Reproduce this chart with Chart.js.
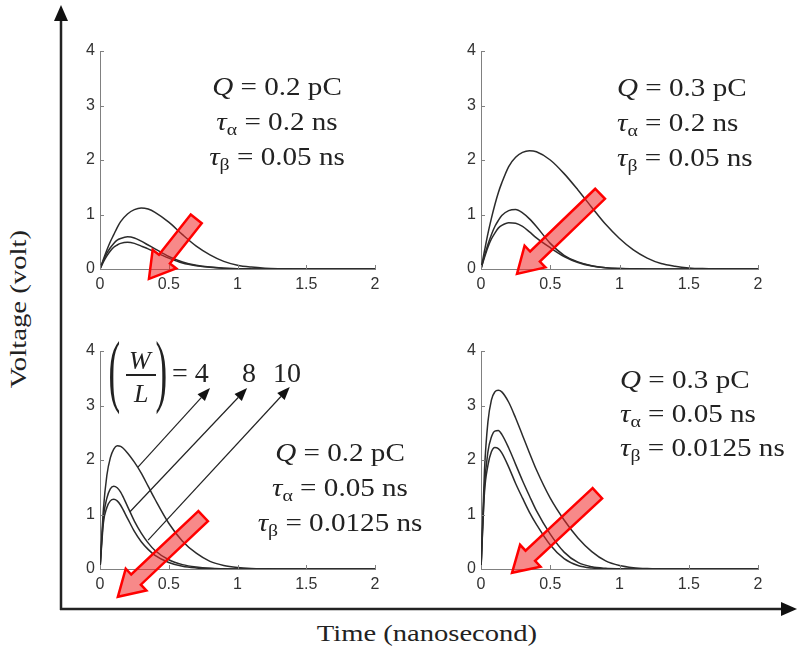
<!DOCTYPE html>
<html>
<head>
<meta charset="utf-8">
<script src="https://cdn.jsdelivr.net/npm/chart.js@4.4.1/dist/chart.umd.min.js"></script>
<style>
  body { margin: 0; width: 797px; height: 652px; overflow: hidden; background: #fff; position: relative;
         font-family: "Liberation Serif", "Times New Roman", serif; color: #222; }
  canvas { position: absolute; }
  .note { position: absolute; font-size: 26px; line-height: 35px; white-space: nowrap; }
  .note sub { font-size: 0.68em; vertical-align: -0.28em; line-height: 0; }
  .piece { position: absolute; white-space: nowrap; }
</style>
</head>
<body>
<svg width="797" height="652" style="position:absolute;left:0;top:0">
  <line x1="61" y1="18" x2="61" y2="610" stroke="#222" stroke-width="2.5"/>
  <polygon points="61,5 54,21 68,21" fill="#111"/>
  <line x1="60" y1="609" x2="784" y2="609" stroke="#222" stroke-width="2.5"/>
  <polygon points="797,609 781,602 781,616" fill="#111"/>
</svg>

<canvas id="pA"></canvas>
<canvas id="pB"></canvas>
<canvas id="pC"></canvas>
<canvas id="pD"></canvas>

<div class="piece" style="left:19px;top:309px;font-size:23px;transform:translate(-50%,-50%) rotate(-90deg) scaleX(1.25)">Voltage (volt)</div>
<div class="piece" style="left:427px;top:633px;font-size:24px;transform:translate(-50%,-50%) scaleX(1.19)">Time (nanosecond)</div>

<div class="note" style="left:127px;width:300px;top:69px;text-align:center;transform:scaleX(1.12)">
  <i>Q</i> = 0.2 pC<br><i>τ</i><sub>α</sub> = 0.2 ns<br><i>τ</i><sub>β</sub> = 0.05 ns
</div>
<div class="note" style="left:617px;top:70px;transform-origin:left;transform:scaleX(1.12)">
  <i>Q</i> = 0.3 pC<br><i>τ</i><sub>α</sub> = 0.2 ns<br><i>τ</i><sub>β</sub> = 0.05 ns
</div>
<div class="note" style="left:190px;width:300px;top:435px;text-align:center;transform:scaleX(1.12)">
  <i>Q</i> = 0.2 pC<br><i>τ</i><sub>α</sub> = 0.05 ns<br><i>τ</i><sub>β</sub> = 0.0125 ns
</div>
<div class="note" style="left:620px;top:363px;line-height:34px;transform-origin:left;transform:scaleX(1.12)">
  <i>Q</i> = 0.3 pC<br><i>τ</i><sub>α</sub> = 0.05 ns<br><i>τ</i><sub>β</sub> = 0.0125 ns
</div>

<div class="piece" style="left:106px;top:345px;font-size:50px;line-height:50px;transform:scale(0.7,1.6)">(</div>
<div class="piece" style="left:129px;top:346px;font-size:26px;line-height:30px"><i>W</i></div>
<div class="piece" style="left:126px;top:374px;width:30px;height:1.5px;background:#222"></div>
<div class="piece" style="left:134px;top:379px;font-size:26px;line-height:30px"><i>L</i></div>
<div class="piece" style="left:153px;top:345px;font-size:50px;line-height:50px;transform:scale(0.7,1.6)">)</div>
<div class="piece" style="left:172px;top:356px;font-size:28px;line-height:34px">= 4</div>
<div class="piece" style="left:242px;top:356px;font-size:28px;line-height:34px">8</div>
<div class="piece" style="left:273px;top:356px;font-size:28px;line-height:34px">10</div>

<script>
// time in nanoseconds, voltage in volts; W4 / W8 / W10 are the W/L = 4, 8, 10 curves
const times = [0, 0.025, 0.05, 0.075, 0.1, 0.125, 0.15, 0.2, 0.25, 0.3, 0.35, 0.4, 0.5, 0.6, 0.7, 0.8, 0.9, 1.0, 1.1, 1.2, 1.3, 1.4, 1.5, 1.6, 1.8, 2.0];

// Q = 0.2 pC, tau_a = 0.2 ns, tau_b = 0.05 ns
const A_W4  = [0, 0.18, 0.35, 0.5, 0.63, 0.76, 0.87, 1.01, 1.09, 1.12, 1.1, 1.04, 0.86, 0.63, 0.42, 0.26, 0.14, 0.07, 0.035, 0.015, 0.006, 0.002, 0, 0, 0, 0];
const A_W8  = [0, 0.16, 0.29, 0.39, 0.47, 0.53, 0.56, 0.59, 0.57, 0.51, 0.44, 0.37, 0.23, 0.13, 0.07, 0.035, 0.015, 0.006, 0.002, 0, 0, 0, 0, 0, 0, 0];
const A_W10 = [0, 0.13, 0.24, 0.33, 0.4, 0.44, 0.47, 0.49, 0.47, 0.42, 0.37, 0.31, 0.2, 0.11, 0.06, 0.03, 0.013, 0.005, 0.002, 0, 0, 0, 0, 0, 0, 0];

// Q = 0.3 pC, tau_a = 0.2 ns, tau_b = 0.05 ns
const B_W4  = [0, 0.33, 0.65, 0.93, 1.18, 1.4, 1.58, 1.88, 2.05, 2.14, 2.17, 2.15, 2.0, 1.75, 1.45, 1.13, 0.82, 0.56, 0.35, 0.2, 0.1, 0.05, 0.02, 0.007, 0, 0];
const B_W8  = [0, 0.24, 0.45, 0.63, 0.78, 0.89, 0.98, 1.07, 1.09, 1.03, 0.92, 0.78, 0.47, 0.25, 0.13, 0.06, 0.025, 0.01, 0.003, 0, 0, 0, 0, 0, 0, 0];
const B_W10 = [0, 0.21, 0.4, 0.55, 0.66, 0.75, 0.8, 0.85, 0.84, 0.78, 0.68, 0.57, 0.39, 0.23, 0.12, 0.055, 0.022, 0.008, 0.003, 0, 0, 0, 0, 0, 0, 0];

// Q = 0.2 pC, tau_a = 0.05 ns, tau_b = 0.0125 ns
const C_W4  = [0, 1.1, 1.72, 2.04, 2.2, 2.26, 2.25, 2.13, 1.96, 1.76, 1.52, 1.28, 0.84, 0.51, 0.29, 0.14, 0.065, 0.028, 0.01, 0.003, 0, 0, 0, 0, 0, 0];
const C_W8  = [0, 0.95, 1.3, 1.47, 1.52, 1.49, 1.41, 1.15, 0.88, 0.66, 0.48, 0.34, 0.17, 0.08, 0.035, 0.012, 0.004, 0, 0, 0, 0, 0, 0, 0, 0, 0];
const C_W10 = [0, 0.85, 1.13, 1.25, 1.28, 1.25, 1.17, 0.93, 0.69, 0.5, 0.36, 0.25, 0.12, 0.05, 0.02, 0.007, 0.002, 0, 0, 0, 0, 0, 0, 0, 0, 0];

// Q = 0.3 pC, tau_a = 0.05 ns, tau_b = 0.0125 ns
const D_W4  = [0, 1.8, 2.7, 3.1, 3.25, 3.28, 3.25, 3.06, 2.77, 2.45, 2.13, 1.82, 1.3, 0.9, 0.57, 0.32, 0.15, 0.065, 0.025, 0.008, 0.002, 0, 0, 0, 0, 0];
const D_W8  = [0, 1.5, 2.15, 2.42, 2.53, 2.54, 2.47, 2.22, 1.92, 1.62, 1.34, 1.07, 0.64, 0.31, 0.12, 0.04, 0.012, 0.003, 0, 0, 0, 0, 0, 0, 0, 0];
const D_W10 = [0, 1.4, 1.9, 2.15, 2.23, 2.21, 2.13, 1.87, 1.57, 1.3, 1.04, 0.82, 0.44, 0.19, 0.065, 0.018, 0.005, 0, 0, 0, 0, 0, 0, 0, 0, 0];

const xTicks = [0, 0.5, 1, 1.5, 2];
const yTicks = [0, 1, 2, 3, 4];

// arrow ends are given in each panel's own data units
const panels = [
  { id: 'pA', box: [100, 51, 375, 269], series: [A_W4, A_W8, A_W10], red: [[0.70, 0.92], [0.356, -0.18]] },
  { id: 'pB', box: [481, 51, 758, 269], series: [B_W4, B_W8, B_W10], red: [[0.86, 1.38], [0.26, -0.09]] },
  { id: 'pC', box: [100, 351, 375, 569], series: [C_W4, C_W8, C_W10], red: [[0.75, 0.97], [0.13, -0.51]],
    pointers: [[[0.276, 1.87], [0.80, 3.32]], [[0.218, 1.05], [1.07, 3.32]], [[0.35, 0.53], [1.38, 3.34]]] },
  { id: 'pD', box: [481, 351, 758, 569], series: [D_W4, D_W8, D_W10], red: [[0.84, 1.39], [0.224, -0.07]] }
];

const decor = {
  id: 'decor',
  afterDraw(chart, args, opts) {
    const { ctx, scales: { x, y } } = chart;
    const P = (pt) => [x.getPixelForValue(pt[0]), y.getPixelForValue(pt[1])];
    ctx.save();
    // inward tick marks
    ctx.strokeStyle = '#808080';
    ctx.lineWidth = 1;
    xTicks.forEach(v => {
      const px = Math.round(x.getPixelForValue(v)) + 0.5;
      ctx.beginPath(); ctx.moveTo(px, y.bottom); ctx.lineTo(px, y.bottom - 4); ctx.stroke();
    });
    yTicks.forEach(v => {
      const py = Math.round(y.getPixelForValue(v)) + 0.5;
      ctx.beginPath(); ctx.moveTo(x.left, py); ctx.lineTo(x.left + 4, py); ctx.stroke();
    });
    // thin black pointers to the W/L labels
    (opts.pointers || []).forEach(([a, b]) => {
      const [x0, y0] = P(a), [x1, y1] = P(b);
      const ang = Math.atan2(y1 - y0, x1 - x0);
      const hl = 13, hw = 5;
      const bx = x1 - hl * Math.cos(ang), by = y1 - hl * Math.sin(ang);
      ctx.strokeStyle = '#222'; ctx.lineWidth = 1.2;
      ctx.beginPath(); ctx.moveTo(x0, y0); ctx.lineTo(bx, by); ctx.stroke();
      ctx.fillStyle = '#111';
      ctx.beginPath();
      ctx.moveTo(x1, y1);
      ctx.lineTo(bx - hw * Math.sin(ang), by + hw * Math.cos(ang));
      ctx.lineTo(bx + hw * Math.sin(ang), by - hw * Math.cos(ang));
      ctx.closePath(); ctx.fill();
    });
    // red block arrow
    if (opts.red) {
      const [tx, ty] = P(opts.red[0]), [px, py] = P(opts.red[1]);
      const len = Math.hypot(px - tx, py - ty);
      const ux = (px - tx) / len, uy = (py - ty) / len;
      const nx = -uy, ny = ux;
      const w = 7, hw = 15, hl = 25;
      const hx = px - ux * hl, hy = py - uy * hl;
      ctx.beginPath();
      ctx.moveTo(tx + nx * w, ty + ny * w);
      ctx.lineTo(hx + nx * w, hy + ny * w);
      ctx.lineTo(hx + nx * hw, hy + ny * hw);
      ctx.lineTo(px, py);
      ctx.lineTo(hx - nx * hw, hy - ny * hw);
      ctx.lineTo(hx - nx * w, hy - ny * w);
      ctx.lineTo(tx - nx * w, ty - ny * w);
      ctx.closePath();
      ctx.fillStyle = 'rgba(240, 40, 40, 0.55)';
      ctx.fill();
      ctx.strokeStyle = '#ff0000';
      ctx.lineWidth = 2.5;
      ctx.lineJoin = 'miter';
      ctx.stroke();
    }
    ctx.restore();
  }
};

const padL = 40, padT = 35, padR = 55, padB = 40;
const axisFont = { family: '"Liberation Sans", Arial, sans-serif', size: 16 };

panels.forEach(p => {
  const [l, t, r, b] = p.box;
  const cv = document.getElementById(p.id);
  const w = r - l + padL + padR, h = b - t + padT + padB;
  cv.width = w; cv.height = h;
  cv.style.left = (l - padL) + 'px'; cv.style.top = (t - padT) + 'px';
  cv.style.width = w + 'px'; cv.style.height = h + 'px';

  new Chart(cv, {
    type: 'line',
    data: {
      datasets: p.series.map(s => ({
        data: times.map((tm, i) => ({ x: tm, y: s[i] })),
        borderColor: '#2b2b2b',
        borderWidth: 1.5,
        pointRadius: 0,
        fill: false,
        cubicInterpolationMode: 'monotone'
      }))
    },
    options: {
      responsive: false,
      animation: false,
      devicePixelRatio: 1,
      layout: { padding: { left: padL - 24, top: padT, right: padR, bottom: padB - 24 } },
      plugins: { legend: { display: false }, tooltip: { enabled: false }, decor: { red: p.red, pointers: p.pointers } },
      scales: {
        x: {
          type: 'linear', min: 0, max: 2,
          afterBuildTicks: s => { s.ticks = xTicks.map(v => ({ value: v })); },
          afterFit: s => { s.height = 24; },
          grid: { display: false, drawTicks: false },
          border: { color: '#808080', width: 1 },
          ticks: { color: '#333', font: axisFont, padding: 6, maxRotation: 0, callback: v => String(v) }
        },
        y: {
          type: 'linear', min: 0, max: 4,
          afterBuildTicks: s => { s.ticks = yTicks.map(v => ({ value: v })); },
          afterFit: s => { s.width = 24; },
          grid: { display: false, drawTicks: false },
          border: { color: '#808080', width: 1 },
          ticks: { color: '#333', font: axisFont, padding: 5, callback: v => String(v) }
        }
      }
    },
    plugins: [decor]
  });
});
</script>
</body>
</html>
